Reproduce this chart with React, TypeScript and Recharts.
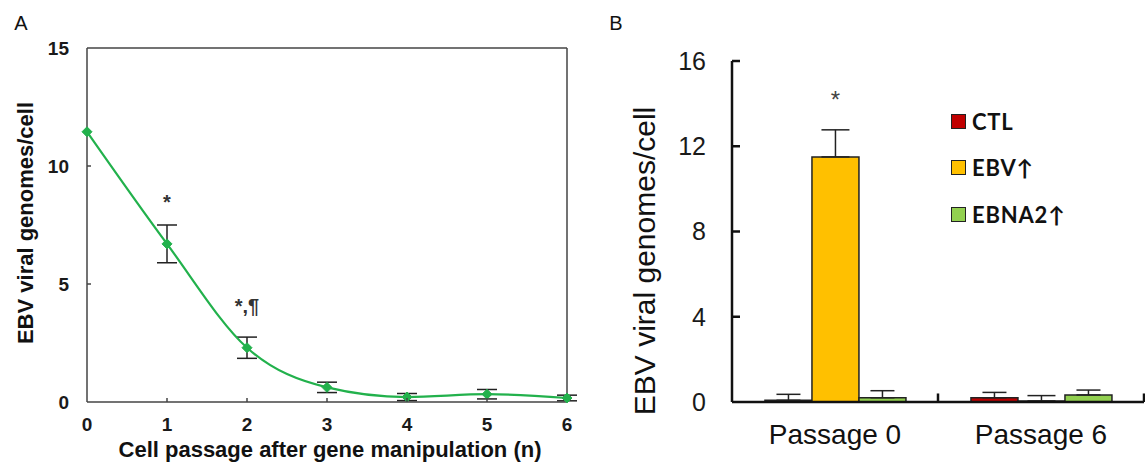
import React from 'react';
import {
  LineChart,
  Line,
  XAxis,
  YAxis,
  ErrorBar,
  ReferenceLine,
  LabelList,
  BarChart,
  Bar,
  Legend,
} from 'recharts';

// ---------- Panel A data ----------
const passages = [0, 1, 2, 3, 4, 5, 6];
const genomes = [11.45, 6.7, 2.3, 0.62, 0.21, 0.33, 0.17];
const genomesErr: (number | null)[] = [null, 0.8, 0.45, 0.22, 0.15, 0.2, 0.12];
const notesA = ['', '*', '*,¶', '', '', '', ''];
const yTicksA = [0, 5, 10, 15];
const xTicksA = [0, 1, 2, 3, 4, 5, 6];

// ---------- Panel B data ----------
const groups = ['Passage 0', 'Passage 6'];
const ctl = [0.08, 0.2];
const ctlErr = [0.28, 0.25];
const ebv = [11.5, 0.05];
const ebvErr = [1.27, 0.25];
const ebna2 = [0.2, 0.33];
const ebna2Err = [0.33, 0.23];
const notesB = ['*', ''];
const yTicksB = [0, 4, 8, 12, 16];
const seriesNamesB = ['CTL', 'EBV↑', 'EBNA2↑'];

const titleA_Y = 'EBV viral genomes/cell';
const titleA_X = 'Cell passage after gene manipulation (n)';
const titleB_Y = 'EBV viral genomes/cell';

const GREEN = '#22b14c';
const COLORS_B = ['#c00000', '#ffc000', '#92d050'];
const SANS = "'Liberation Sans', Arial, sans-serif";

const dataA = passages.map((p, i) => ({
  x: p,
  y: genomes[i],
  err: genomesErr[i],
  note: notesA[i],
}));

const dataB = groups.map((g, i) => ({
  g,
  ctl: ctl[i],
  ctlErr: [0, ctlErr[i]],
  ebv: ebv[i],
  ebvErr: [0, ebvErr[i]],
  ebna2: ebna2[i],
  ebna2Err: [0, ebna2Err[i]],
  note: notesB[i],
}));

// ---------- custom ticks ----------
const makeLeftTick =
  (margin: number, len: number, fontSize: number, weight: number, stroke: string, sw: number, skip: number[]) =>
  (p: any) => {
    const ax = p.x + margin;
    const v = p.payload.value;
    return (
      <g>
        {!skip.includes(v) && (
          <line x1={ax} x2={ax + len} y1={p.y} y2={p.y} stroke={stroke} strokeWidth={sw} />
        )}
        <text
          x={p.x}
          y={p.y}
          dy="0.355em"
          textAnchor="end"
          fontSize={fontSize}
          fontWeight={weight}
          fontFamily={SANS}
          fill="#1a1a1a"
        >
          {v}
        </text>
      </g>
    );
  };

const makeBottomTick =
  (margin: number, len: number, fontSize: number, weight: number, stroke: string, sw: number, skip: number[]) =>
  (p: any) => {
    const ay = p.y - margin;
    const v = p.payload.value;
    return (
      <g>
        {!skip.includes(v) && (
          <line x1={p.x} x2={p.x} y1={ay} y2={ay - len} stroke={stroke} strokeWidth={sw} />
        )}
        <text
          x={p.x}
          y={p.y}
          dy="0.71em"
          textAnchor="middle"
          fontSize={fontSize}
          fontWeight={weight}
          fontFamily={SANS}
          fill="#1a1a1a"
        >
          {v}
        </text>
      </g>
    );
  };

const Diamond = (p: any) => {
  const { cx, cy } = p;
  if (cx == null || cy == null) return <g />;
  const r = 5;
  return (
    <polygon
      points={`${cx},${cy - r} ${cx + r},${cy} ${cx},${cy + r} ${cx - r},${cy}`}
      fill={GREEN}
      stroke={GREEN}
    />
  );
};

const NoteA = (p: any) => {
  if (!p.value) return null;
  return (
    <text
      x={p.x}
      y={p.y - 35}
      textAnchor="middle"
      fontSize={20}
      fontWeight={700}
      fontFamily={SANS}
      fill="#333"
    >
      {p.value}
    </text>
  );
};

const NoteB = (p: any) => {
  if (!p.value) return null;
  return (
    <text
      x={p.x + p.width / 2}
      y={p.y - 49}
      textAnchor="middle"
      fontSize={24}
      fontFamily={SANS}
      fill="#444"
    >
      {p.value}
    </text>
  );
};

const LegendB = (props: any) => {
  const payload = [...(props.payload || [])].sort(
    (a: any, b: any) => seriesNamesB.indexOf(a.value) - seriesNamesB.indexOf(b.value)
  );
  return (
    <div
      style={{
        fontFamily: "Lato, 'Noto Sans', sans-serif",
        fontWeight: 700,
        fontSize: 22,
        letterSpacing: 0.8,
        color: '#111',
      }}
    >
      {payload.map((e: any, i: number) => (
        <div key={i} style={{ height: 46.5, display: 'flex', alignItems: 'center' }}>
          <span
            style={{
              display: 'inline-block',
              width: 15,
              height: 15,
              background: e.color,
              border: '1.5px solid #222',
              boxSizing: 'border-box',
              marginRight: 6,
            }}
          />
          <span>{e.value}</span>
        </div>
      ))}
    </div>
  );
};

const txt = (extra: React.CSSProperties): React.CSSProperties => ({
  position: 'absolute',
  whiteSpace: 'nowrap',
  fontFamily: SANS,
  color: '#111',
  lineHeight: 1,
  ...extra,
});

export default function App() {
  return (
    <div style={{ position: 'absolute', left: 0, top: 0, width: 1145, height: 466, background: '#fff', overflow: 'hidden' }}>
      {/* Panel A */}
      <div style={{ position: 'absolute', left: 0, top: 0 }}>
        <LineChart width={600} height={466} data={dataA} margin={{ top: 48, right: 33, left: 0, bottom: 0 }}>
          <XAxis
            dataKey="x"
            type="number"
            domain={[0, 6]}
            ticks={xTicksA}
            interval={0}
            height={64}
            tickSize={0}
            tickMargin={16}
            tickLine={false}
            axisLine={{ stroke: '#444', strokeWidth: 1.5 }}
            tick={makeBottomTick(16, 4, 19, 700, '#444', 1.5, [0, 6])}
          />
          <YAxis
            type="number"
            domain={[0, 15]}
            ticks={yTicksA}
            interval={0}
            width={87}
            tickSize={0}
            tickMargin={18}
            tickLine={false}
            axisLine={{ stroke: '#444', strokeWidth: 1.5 }}
            tick={makeLeftTick(18, 4, 19, 700, '#444', 1.5, [0, 15])}
          />
          <ReferenceLine y={15} stroke="#444" strokeWidth={1.5} />
          <ReferenceLine x={6} stroke="#444" strokeWidth={1.5} />
          <Line
            dataKey="y"
            type="monotone"
            stroke={GREEN}
            strokeWidth={2.2}
            dot={(p: any) => <Diamond key={`d${p.index}`} {...p} />}
            activeDot={false}
            isAnimationActive={false}
          >
            <ErrorBar dataKey="err" width={10} stroke="#222" strokeWidth={1.5} direction="y" />
            <LabelList dataKey="note" content={NoteA} />
          </Line>
        </LineChart>
      </div>

      {/* Panel B */}
      <div style={{ position: 'absolute', left: 600, top: 0 }}>
        <BarChart
          width={545}
          height={466}
          data={dataB}
          margin={{ top: 61, right: 1, left: 0, bottom: 0 }}
          barCategoryGap="16%"
          barGap={0}
        >
          <XAxis
            dataKey="g"
            height={64}
            tickSize={0}
            tickMargin={22}
            tickLine={false}
            axisLine={{ stroke: '#111', strokeWidth: 2.5 }}
            tick={{ fontSize: 28, fill: '#111', fontFamily: SANS }}
          />
          <YAxis
            type="number"
            domain={[0, 16]}
            ticks={yTicksB}
            interval={0}
            width={132}
            tickSize={0}
            tickMargin={26}
            tickLine={false}
            axisLine={{ stroke: '#111', strokeWidth: 2.5 }}
            tick={makeLeftTick(26, 8, 25, 400, '#111', 2.5, [0])}
          />
          <Legend
            layout="vertical"
            align="center"
            verticalAlign="middle"
            content={LegendB}
            wrapperStyle={{ left: 351, top: 98, width: 190 }}
          />
          <Bar dataKey="ctl" name={seriesNamesB[0]} fill={COLORS_B[0]} stroke="#222" strokeWidth={1.5} isAnimationActive={false}>
            <ErrorBar dataKey="ctlErr" width={12} stroke="#222" strokeWidth={1.5} direction="y" />
          </Bar>
          <Bar dataKey="ebv" name={seriesNamesB[1]} fill={COLORS_B[1]} stroke="#222" strokeWidth={1.5} isAnimationActive={false}>
            <ErrorBar dataKey="ebvErr" width={14} stroke="#222" strokeWidth={1.5} direction="y" />
            <LabelList dataKey="note" content={NoteB} />
          </Bar>
          <Bar dataKey="ebna2" name={seriesNamesB[2]} fill={COLORS_B[2]} stroke="#222" strokeWidth={1.5} isAnimationActive={false}>
            <ErrorBar dataKey="ebna2Err" width={12} stroke="#222" strokeWidth={1.5} direction="y" />
          </Bar>
          <ReferenceLine
            segment={[{ x: groups[1], y: 0 }, { x: groups[1], y: 0.4 }]}
            position="start"
            stroke="#111"
            strokeWidth={2.5}
          />
          <ReferenceLine
            segment={[{ x: groups[1], y: 0 }, { x: groups[1], y: 0.4 }]}
            position="end"
            stroke="#111"
            strokeWidth={2.5}
          />
        </BarChart>
      </div>

      {/* Panel letters and axis titles */}
      <div style={txt({ left: 21, top: 23, fontSize: 20, transform: 'translate(-50%,-50%)' })}>A</div>
      <div style={txt({ left: 616, top: 23, fontSize: 20, transform: 'translate(-50%,-50%)' })}>B</div>
      <div
        style={txt({ left: 26, top: 223, fontSize: 22, fontWeight: 700, transform: 'translate(-50%,-50%) rotate(-90deg)' })}
      >
        {titleA_Y}
      </div>
      <div style={txt({ left: 330, top: 450, fontSize: 22, fontWeight: 700, transform: 'translate(-50%,-50%)' })}>
        {titleA_X}
      </div>
      <div style={txt({ left: 645, top: 261, fontSize: 30, transform: 'translate(-50%,-50%) rotate(-90deg)' })}>
        {titleB_Y}
      </div>
    </div>
  );
}
